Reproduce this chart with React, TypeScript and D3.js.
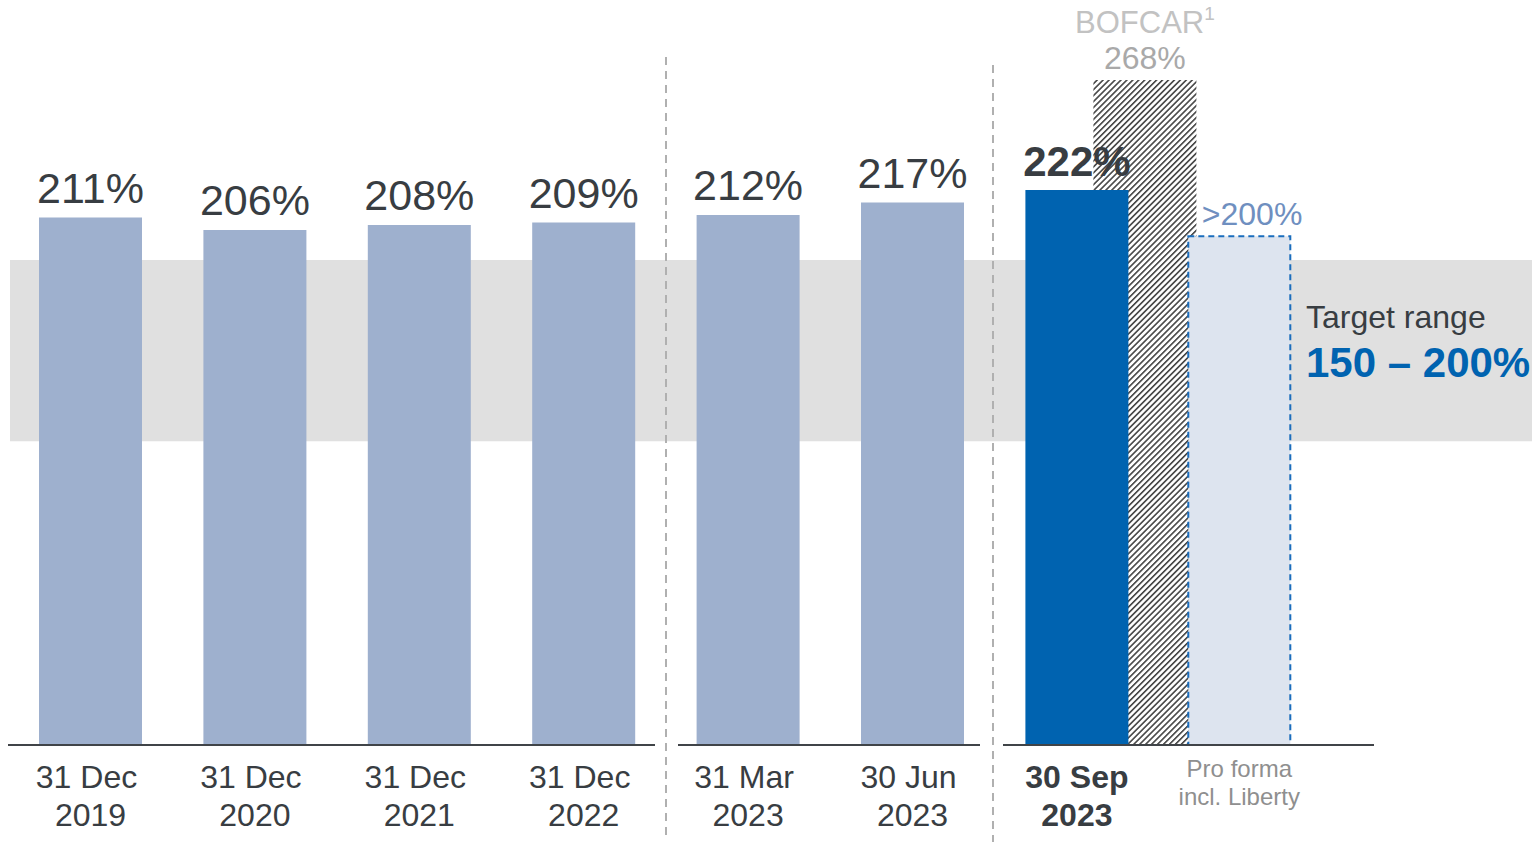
import React from "react";
import * as d3 from "d3";

const categories = ["31 Dec|2019", "31 Dec|2020", "31 Dec|2021", "31 Dec|2022", "31 Mar|2023", "30 Jun|2023", "30 Sep|2023", "Pro forma|incl. Liberty"];
const historyValues = [211, 206, 208, 209, 212, 217];
const currentValue = 222;
const bofcarValue = 268;
const proFormaValue = 203.5;
const targetBand = [121.5, 194];
const targetLabel = "150 – 200%";

const W = 1532, H = 842;
const FONT = "'Liberation Sans', Arial, sans-serif";

export default function App() {
  const x = d3.scaleBand<string>().domain(categories).range([8.3, 1323.5]).paddingInner(0.3735).paddingOuter(0.18675);
  const y = d3.scaleLinear().domain([0, 300]).range([745, 745 - 750]);
  const bw = x.bandwidth();
  const base = y(0);
  const dark = "#383d42";

  const cx = (i: number) => (x(categories[i]) as number) + bw / 2;
  const hatchX = (x(categories[6]) as number) + 68;

  const axisSegs = [[8, 655], [678, 980], [1003, 1374]];
  const seps = [{ x: 666, y1: 57, y2: 835 }, { x: 993, y1: 65, y2: 842 }];

  return (
    <svg width={W} height={H} style={{ position: "absolute", left: 0, top: 0, background: "#fff" }} fontFamily={FONT}>
      <defs>
        <pattern id="hatch" width="4.2" height="4.2" patternUnits="userSpaceOnUse" patternTransform="rotate(45)">
          <rect width="4.2" height="4.2" fill="#fff" />
          <line x1="0.8" y1="0" x2="0.8" y2="4.2" stroke="#2a2a2a" strokeWidth="1.4" />
        </pattern>
      </defs>
      {/* target band */}
      <rect x={10} y={y(targetBand[1])} width={W - 10} height={y(targetBand[0]) - y(targetBand[1])} fill="#e0e0e0" />

      {/* history bars */}
      {historyValues.map((v, i) => (
        <g key={i}>
          <rect x={x(categories[i])} y={y(v)} width={bw} height={base - y(v)} fill="#9eb0ce" />
          <text x={cx(i)} y={y(v) - 15} textAnchor="middle" fontSize={43} fill={dark}>{v}%</text>
        </g>
      ))}

      {/* hatched BOFCAR bar */}
      <rect x={hatchX} y={y(bofcarValue) + 5} width={bw} height={base - y(bofcarValue) - 5} fill="url(#hatch)" />
      <text x={hatchX + bw / 2} y={33} textAnchor="middle" fontSize={31} fill="#c2c2c2">BOFCAR<tspan fontSize={19} dy={-13}>1</tspan></text>
      <text x={hatchX + bw / 2} y={69} textAnchor="middle" fontSize={32} fill="#a9a9a9">{bofcarValue}%</text>

      {/* current bar */}
      <rect x={x(categories[6])} y={y(currentValue)} width={bw} height={base - y(currentValue)} fill="#0063b0" />
      <text x={cx(6)} y={y(currentValue) - 14} textAnchor="middle" fontSize={42} fontWeight="bold" fill={dark}>{currentValue}%</text>

      {/* pro forma */}
      <rect x={(x(categories[7]) as number) - 1.5} y={y(proFormaValue)} width={bw - 1} height={base - y(proFormaValue)} fill="#dde4ef" stroke="#1a6dbd" strokeWidth={2} strokeDasharray="6,4" />
      <text x={(x(categories[7]) as number) + 12} y={y(proFormaValue) - 11} fontSize={32} fill="#6f8fc0">&gt;200%</text>

      {/* separators */}
      {seps.map((s, i) => (
        <line key={i} x1={s.x} x2={s.x} y1={s.y1} y2={s.y2} stroke="#b0b0b0" strokeWidth={2} strokeDasharray="8,6" />
      ))}

      {/* axis */}
      {axisSegs.map((s, i) => (
        <line key={i} x1={s[0]} x2={s[1]} y1={base} y2={base} stroke="#404448" strokeWidth={2} />
      ))}

      {/* x labels */}
      {categories.map((c, i) => {
        const [a, b] = c.split("|");
        if (i === 7) {
          return (
            <g key={i} fill="#8f8f8f" fontSize={24} textAnchor="middle">
              <text x={cx(i) - 2} y={777}>{a}</text>
              <text x={cx(i) - 2} y={805}>{b}</text>
            </g>
          );
        }
        const shift = i === 6 ? 0 : -4;
        return (
          <g key={i} fill={dark} fontSize={32} textAnchor="middle" fontWeight={i === 6 ? "bold" : "normal"}>
            <text x={cx(i) + shift} y={788}>{a}</text>
            <text x={cx(i)} y={826}>{b}</text>
          </g>
        );
      })}

      {/* target label */}
      <text x={1306} y={328} fontSize={32} fill={dark}>Target range</text>
      <text x={1306} y={377} fontSize={42} fontWeight="bold" fill="#0063b0">{targetLabel}</text>
    </svg>
  );
}
